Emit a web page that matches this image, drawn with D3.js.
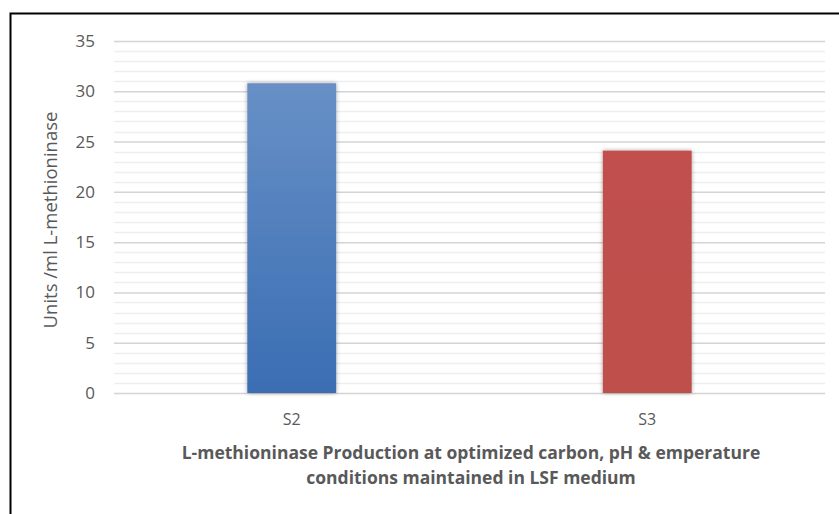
<!DOCTYPE html>
<html>
<head>
<meta charset="utf-8">
<script src="https://cdn.jsdelivr.net/npm/d3@7"></script>
<style>
  body { margin: 0; background: #fff; }
  svg { display: block; font-family: "Open Sans", sans-serif; }
</style>
</head>
<body>
<svg id="chart" width="839" height="514"></svg>
<script>
const categories = ['S2', 'S3']
const values = [30.8, 24.1]
const colors = [['#6790c6', '#3a6db3'], ['#c0504d', '#be4f4c']]
const yTicks = [0, 5, 10, 15, 20, 25, 30, 35]
const yLabel = 'Units /ml L-methioninase'
const xTitle = ['L-methioninase Production at optimized carbon, pH & emperature', 'conditions maintained in LSF medium']

const svg = d3.select('#chart')
const margin = {left: 114, right: 14, top: 41, bottom: 121}
const width = 839
const height = 514

// frame (only left and top show in the crop)
svg.append('path')
  .attr('d', `M10.5,${height} V13.5 H${width}`)
  .attr('fill', 'none')
  .attr('stroke', '#000')
  .attr('stroke-width', 2)

const x = d3.scaleBand()
  .domain(categories)
  .range([margin.left, width - margin.right])
  .paddingInner(0.75)
  .paddingOuter(0.375)

const y = d3.scaleLinear()
  .domain([0, 35])
  .range([height - margin.bottom, margin.top])

const defs = svg.append('defs')
colors.forEach((c, i) => {
  const g = defs.append('linearGradient')
    .attr('id', 'grad' + i)
    .attr('x1', 0).attr('y1', 0).attr('x2', 0).attr('y2', 1)
  g.append('stop').attr('offset', '0%').attr('stop-color', c[0])
  g.append('stop').attr('offset', '100%').attr('stop-color', c[1])
})
const shadow = defs.append('filter').attr('id', 'shadow')
  .attr('x', '-20%').attr('y', '-10%').attr('width', '140%').attr('height', '120%')
shadow.append('feDropShadow')
  .attr('dx', 0).attr('dy', 0).attr('stdDeviation', 2)
  .attr('flood-color', '#000').attr('flood-opacity', 0.35)

// minor gridlines
svg.append('g')
  .selectAll('line')
  .data(d3.range(1, 35).filter(v => v % 5 !== 0))
  .join('line')
  .attr('x1', margin.left).attr('x2', width - margin.right)
  .attr('y1', d => Math.round(y(d)) + 0.5).attr('y2', d => Math.round(y(d)) + 0.5)
  .attr('stroke', '#eeeeee')
  .attr('stroke-width', 1.5)

// major gridlines
svg.append('g')
  .attr('transform', `translate(${margin.left},0)`)
  .call(d3.axisLeft(y).tickValues(yTicks).tickSize(-(width - margin.left - margin.right)).tickFormat(''))
  .call(g => g.select('.domain').remove())
  .call(g => g.selectAll('line').attr('stroke', '#d4d4d4').attr('stroke-width', 1.5))

// bars
svg.append('g')
  .selectAll('rect')
  .data(values)
  .join('rect')
  .attr('x', (d, i) => x(categories[i]))
  .attr('y', d => y(d))
  .attr('width', x.bandwidth())
  .attr('height', d => y(0) - y(d))
  .attr('fill', (d, i) => `url(#grad${i})`)
  .attr('filter', 'url(#shadow)')

// y tick labels
svg.append('g')
  .attr('transform', `translate(${margin.left - 19},0)`)
  .call(d3.axisLeft(y).tickValues(yTicks).tickSize(0).tickPadding(0))
  .call(g => g.select('.domain').remove())
  .call(g => g.selectAll('text')
    .attr('fill', '#595959')
    .style('font-size', '17px')
    .style('font-family', '"Open Sans", sans-serif'))

// x category labels
svg.append('g')
  .attr('transform', `translate(0,${height - margin.bottom})`)
  .call(d3.axisBottom(x).tickSize(0).tickPadding(21))
  .call(g => g.select('.domain').remove())
  .call(g => g.selectAll('text')
    .attr('fill', '#595959')
    .style('font-size', '16px')
    .style('font-family', '"Open Sans", sans-serif'))

// y axis title
svg.append('text')
  .attr('transform', `translate(57,220) rotate(-90)`)
  .attr('text-anchor', 'middle')
  .attr('fill', '#595959')
  .style('font-size', '18.5px')
  .text(yLabel)

// x axis title
svg.append('g')
  .selectAll('text')
  .data(xTitle)
  .join('text')
  .attr('x', 471)
  .attr('y', (d, i) => 459 + i * 25)
  .attr('text-anchor', 'middle')
  .attr('fill', '#595959')
  .style('font-size', '17.5px')
  .style('font-weight', 'bold')
  .text(d => d)
</script>
</body>
</html>
